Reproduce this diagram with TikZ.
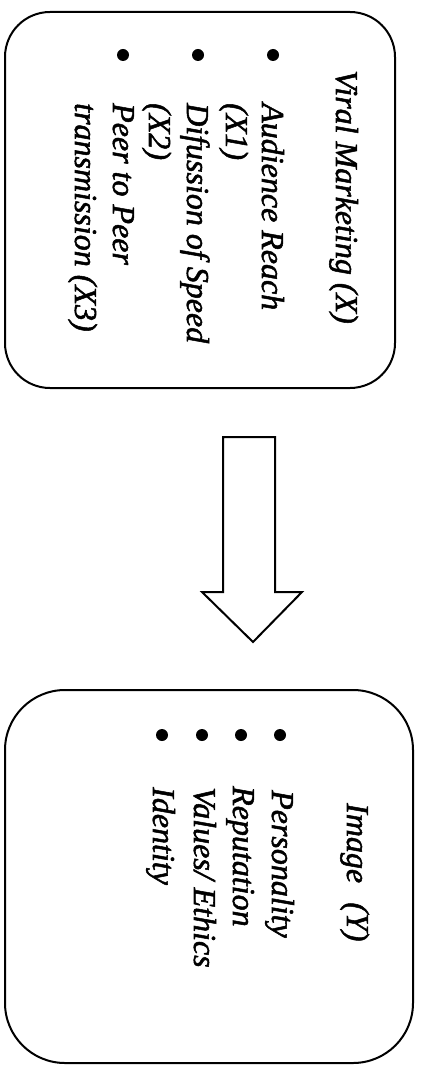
\documentclass[tikz,border=0pt]{standalone}
\usepackage{fontspec}
\setmainfont{Liberation Serif}[ItalicFeatures={FakeBold=1.6}]
\begin{document}
\begin{tikzpicture}[x=1pt,y=-1pt,
  txt/.style={rotate=-90,anchor=base west,inner sep=0pt,font=\fontsize{32}{38}\selectfont\itshape},
  frame/.style={draw,line width=2pt,rounded corners=#1},
  dot/.style={circle,fill,inner sep=0pt,minimum size=12pt}]
\useasboundingbox (0,0) rectangle (421,1067);
% box 1
\draw[frame=45pt] (5,12) rectangle (395,388);
\node[txt] (t1) at (336,70) {Viral Marketing (X)};
\node[dot] (d11) at (273,55) {};
\node[dot] (d12) at (198,55) {};
\node[dot] (d13) at (123,55) {};
\node[txt] (a1) at (262,103) {Audience Reach};
\node[txt] (a2) at (226,103) {(X1)};
\node[txt] (a3) at (187,103) {Difussion of Speed};
\node[txt] (a4) at (149,103) {(X2)};
\node[txt] (a5) at (113,103) {Peer to Peer};
\node[txt] (a6) at (75,103) {transmission (X3)};
% arrow
\draw[line width=2pt,line join=miter]
  (223,437) -- (275,437) -- (275,592) -- (302,592) -- (253,642)
  -- (202,592) -- (223,592) -- cycle;
% box 2
\draw[frame=60pt] (5,690) rectangle (413,1063);
\node[txt] (t2) at (347,803) {Image\hspace{0.6em}(Y)};
\node[dot] (d21) at (280,735) {};
\node[dot] (d22) at (241,735) {};
\node[dot] (d23) at (202,735) {};
\node[dot] (d24) at (162,735) {};
\node[txt] (b1) at (272,790) {Personality};
\node[txt] (b2) at (233,786) {Reputation};
\node[txt] (b3) at (194,787) {Values/ Ethics};
\node[txt] (b4) at (153,787) {Identity};
\end{tikzpicture}
\end{document}
